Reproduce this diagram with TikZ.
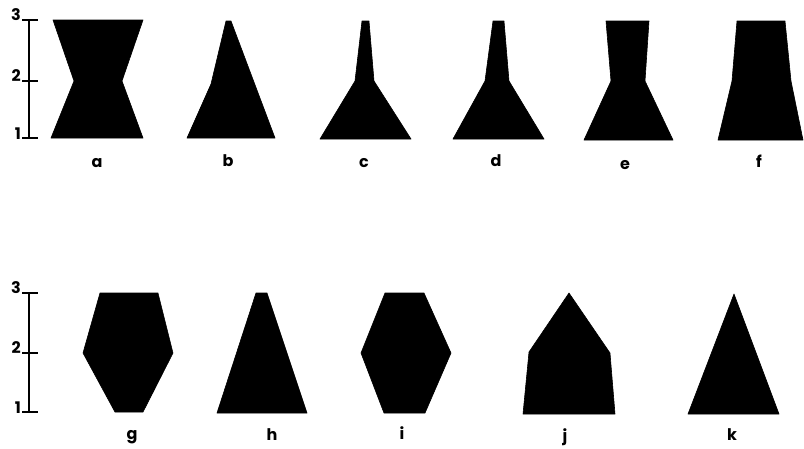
\documentclass[tikz,border=0pt]{standalone}
\usepackage{fontspec}
\newfontfamily\lblfont{Poppins Bold}
\begin{document}
\begin{tikzpicture}[x=1pt,y=-1pt,
  shp/.style={fill=black,draw=black,line width=0.6pt,line join=round},
  lbl/.style={font=\lblfont\fontsize{16}{16}\selectfont,inner sep=0pt},
  num/.style={font=\lblfont\fontsize{16}{16}\selectfont,inner sep=0pt,anchor=east},
  axis/.style={line width=1.8pt}]
\useasboundingbox (0,0) rectangle (804,448);
% ---- top axis
\draw[axis] (29,20) -- (29,138);
\foreach \yy in {20,81,138} \draw[axis] (22,\yy) -- (38,\yy);
\node[num] (t3) at (21,15) {3};
\node[num] (t2) at (21,76) {2};
\node[num] (t1) at (21,134) {1};
% ---- bottom axis
\draw[axis] (29,293) -- (29,412);
\foreach \yy in {293,353,412} \draw[axis] (22,\yy) -- (38,\yy);
\node[num] (b3) at (21,288) {3};
\node[num] (b2) at (21,348) {2};
\node[num] (b1) at (21,408) {1};
% ---- shapes top row
\fill[shp] (53,20) -- (143,20) -- (122,81) -- (143,138) -- (51,138) -- (74,81) -- cycle; % a
\fill[shp] (226,21) -- (231,21) -- (275,138) -- (187,138) -- (211,84) -- cycle; % b
\fill[shp] (362,21) -- (369,21) -- (374,81) -- (411,139) -- (320,139) -- (355,81) -- cycle; % c
\fill[shp] (493,21) -- (504,21) -- (509,81) -- (544,139) -- (453,139) -- (485,81) -- cycle; % d
\fill[shp] (606,21) -- (649,21) -- (645,81) -- (673,140) -- (584,140) -- (611,81) -- cycle; % e
\fill[shp] (737,21) -- (785,21) -- (791,81) -- (803,140) -- (718,140) -- (732,81) -- cycle; % f
% ---- shapes bottom row
\fill[shp] (100,293) -- (158,293) -- (173,353) -- (143,412) -- (115,412) -- (83,353) -- cycle; % g
\fill[shp] (256,293) -- (267,293) -- (307,413) -- (217,413) -- cycle; % h
\fill[shp] (385,293) -- (424,293) -- (451,353) -- (425,413) -- (384,413) -- (361,353) -- cycle; % i
\fill[shp] (569,293) -- (610,353) -- (615,414) -- (523,414) -- (529,352) -- cycle; % j
\fill[shp] (734,294) -- (779,414) -- (688,414) -- cycle; % k
% ---- labels
\node[lbl] (la) at (97,163) {a};
\node[lbl] (lb) at (228,161) {b};
\node[lbl] (lc) at (364,163) {c};
\node[lbl] (ld) at (496,161) {d};
\node[lbl] (le) at (625,165) {e};
\node[lbl] (lf) at (759,161) {f};
\node[lbl] (lg) at (132,437) {g};
\node[lbl] (lh) at (272,435) {h};
\node[lbl] (li) at (402,433) {i};
\node[lbl] (lj) at (565,437) {j};
\node[lbl] (lk) at (732,435) {k};
\end{tikzpicture}
\end{document}
